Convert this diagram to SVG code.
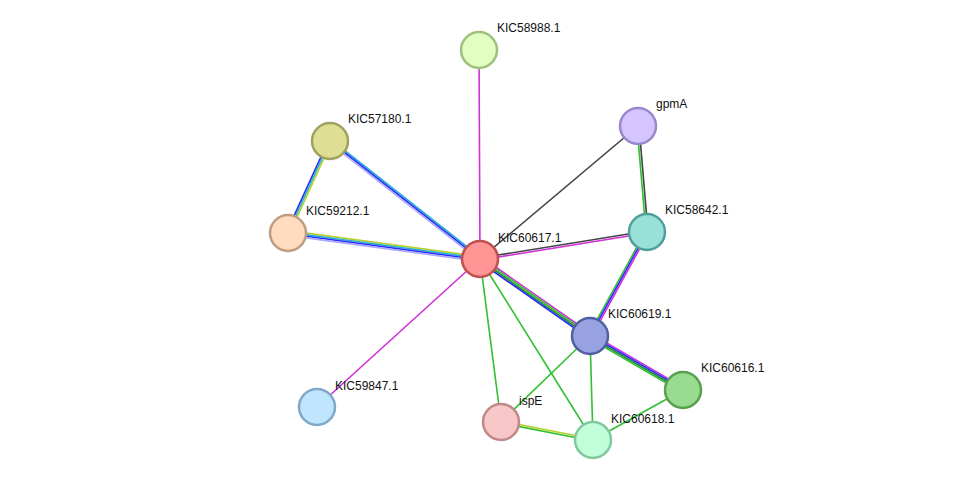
<svg xmlns="http://www.w3.org/2000/svg" width="975" height="486" viewBox="0 0 975 486">
<style>
line{stroke-width:1.6}
.m{stroke:#d030d8}.g{stroke:#30c030}.dg{stroke:#208a30}.k{stroke:#444}.b{stroke:#2a2aff}.c{stroke:#20b0d0}.l{stroke:#a8a8ff}.y{stroke:#b8d030}
circle{stroke-width:2.5}
text{font-family:"Liberation Sans",Arial,sans-serif;font-size:12px;fill:#111}
</style>
<rect width="975" height="486" fill="#fff"/>
<g id="edges">
<line class="c" x1="331" y1="139.7" x2="481" y2="257.7"/>
<line class="b" x1="330" y1="141" x2="480" y2="259"/>
<line class="l" x1="329" y1="142.3" x2="479" y2="260.3"/>
<line class="b" x1="328.5" y1="140.3" x2="286.5" y2="232.3"/>
<line class="c" x1="330" y1="141" x2="288" y2="233"/>
<line class="y" x1="331.5" y1="141.7" x2="289.5" y2="233.7"/>
<line class="y" x1="288.3" y1="230.6" x2="480.3" y2="256.6"/>
<line class="c" x1="288.1" y1="232.2" x2="480.1" y2="258.2"/>
<line class="b" x1="287.9" y1="233.8" x2="479.9" y2="259.8"/>
<line class="l" x1="287.7" y1="235.4" x2="479.7" y2="261.4"/>
<line class="m" x1="479" y1="50" x2="480" y2="259"/>
<line class="k" x1="638" y1="126" x2="480" y2="259"/>
<line class="g" x1="637" y1="126.1" x2="646" y2="232.1"/>
<line class="k" x1="639" y1="125.9" x2="648" y2="231.9"/>
<line class="k" x1="479.8" y1="258" x2="646.8" y2="231"/>
<line class="m" x1="480.2" y1="260" x2="647.2" y2="233"/>
<line class="m" x1="481.4" y1="257" x2="591.4" y2="334"/>
<line class="g" x1="480.5" y1="258.3" x2="590.5" y2="335.3"/>
<line class="dg" x1="479.5" y1="259.7" x2="589.5" y2="336.7"/>
<line class="b" x1="478.6" y1="261" x2="588.6" y2="338"/>
<line class="g" x1="645.6" y1="231.2" x2="588.6" y2="335.2"/>
<line class="b" x1="647" y1="232" x2="590" y2="336"/>
<line class="m" x1="648.4" y1="232.8" x2="591.4" y2="336.8"/>
<line class="m" x1="591.2" y1="333.9" x2="684.2" y2="387.9"/>
<line class="b" x1="590.4" y1="335.3" x2="683.4" y2="389.3"/>
<line class="dg" x1="589.6" y1="336.7" x2="682.6" y2="390.7"/>
<line class="g" x1="588.8" y1="338.1" x2="681.8" y2="392.1"/>
<line class="m" x1="480" y1="259" x2="317" y2="407"/>
<line class="g" x1="480" y1="259" x2="501" y2="422"/>
<line class="g" x1="480" y1="259" x2="593" y2="440"/>
<line class="g" x1="590" y1="336" x2="501" y2="422"/>
<line class="g" x1="590" y1="336" x2="593" y2="440"/>
<line class="g" x1="683" y1="390" x2="593" y2="440"/>
<line class="y" x1="501.2" y1="421" x2="593.2" y2="439"/>
<line class="g" x1="500.8" y1="423" x2="592.8" y2="441"/>
</g>
<g id="KIC58988.1"><circle cx="479" cy="50" r="18" fill="#e0ffc0" stroke="#a0c080"/><text x="497" y="32">KIC58988.1</text></g>
<g id="gpmA"><circle cx="638" cy="126" r="18" fill="#d4c4ff" stroke="#9a88cc"/><text x="656" y="108">gpmA</text></g>
<g id="KIC57180.1"><circle cx="330" cy="141" r="18" fill="#dede94" stroke="#a0a060"/><text x="348" y="123">KIC57180.1</text></g>
<g id="KIC59212.1"><circle cx="288" cy="233" r="18" fill="#ffdcc0" stroke="#c09c80"/><text x="306" y="215">KIC59212.1</text></g>
<g id="KIC58642.1"><circle cx="647" cy="232" r="18" fill="#98e0d8" stroke="#50a098"/><text x="665" y="214">KIC58642.1</text></g>
<g id="KIC60617.1"><circle cx="480" cy="259" r="18" fill="#ff9494" stroke="#c05050"/><text x="498" y="242">KIC60617.1</text></g>
<g id="KIC60619.1"><circle cx="590" cy="336" r="18" fill="#98a2e0" stroke="#5060a0"/><text x="608" y="318">KIC60619.1</text></g>
<g id="KIC60616.1"><circle cx="683" cy="390" r="18" fill="#98dc90" stroke="#58a050"/><text x="701" y="372">KIC60616.1</text></g>
<g id="KIC59847.1"><circle cx="317" cy="407" r="18" fill="#c0e6ff" stroke="#80a8c8"/><text x="335" y="390">KIC59847.1</text></g>
<g id="ispE"><circle cx="501" cy="422" r="18" fill="#f8c8c8" stroke="#c08888"/><text x="519" y="405">ispE</text></g>
<g id="KIC60618.1"><circle cx="593" cy="440" r="18" fill="#c0ffd8" stroke="#80c8a0"/><text x="611" y="423">KIC60618.1</text></g>
</svg>
